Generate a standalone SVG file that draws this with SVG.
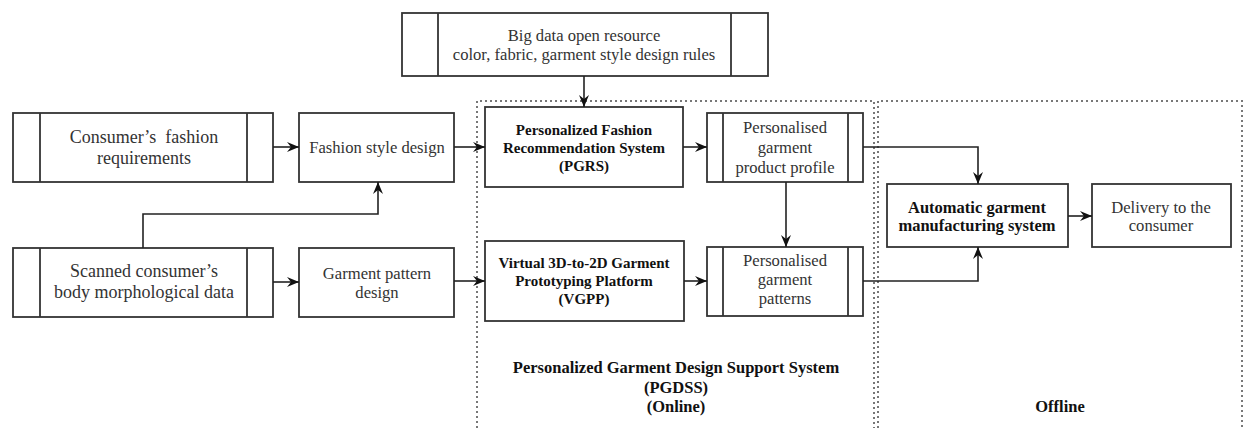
<svg xmlns="http://www.w3.org/2000/svg" width="1244" height="430" viewBox="0 0 1244 430">
<style>
.box{fill:#fff;stroke:#333;stroke-width:1.8}
.in{stroke:#333;stroke-width:1.8}
.t{font-family:"Liberation Serif",serif;font-size:16.6px;fill:#333;text-anchor:middle}
.tl{font-family:"Liberation Serif",serif;font-size:18px;fill:#333;text-anchor:middle}
.b{font-family:"Liberation Serif",serif;font-size:15px;font-weight:bold;fill:#111;text-anchor:middle}
.bl{font-family:"Liberation Serif",serif;font-size:16.5px;font-weight:bold;fill:#111;text-anchor:middle}
.c{fill:none;stroke:#222;stroke-width:1.6}
.dot{fill:none;stroke:#777;stroke-width:2;stroke-dasharray:2 3}
</style>
<defs>
<marker id="ah" viewBox="0 0 12 10" refX="12" refY="5" markerWidth="12" markerHeight="10" markerUnits="userSpaceOnUse" orient="auto">
<path d="M0,0 L12,5 L0,10 L4,5 Z" fill="#111"/>
</marker>
</defs>
<rect width="1244" height="430" fill="#fff"/>
<g id="regions">
<path class="dot" d="M477,428 V101 H874 V428"/>
<path class="dot" d="M878,428 V101 H1242 V428"/>
<text class="bl" x="676" y="373">Personalized Garment Design Support System</text>
<text class="bl" x="676" y="393">(PGDSS)</text>
<text class="bl" x="676" y="412">(Online)</text>
<text class="bl" x="1060" y="412">Offline</text>
</g>
<g id="bigdata">
<rect class="box" x="402" y="13" width="366" height="63"/>
<line class="in" x1="438" y1="13" x2="438" y2="76"/>
<line class="in" x1="731" y1="13" x2="731" y2="76"/>
<text class="t" x="584" y="41">Big data open resource</text>
<text class="t" x="584" y="60">color, fabric, garment style design rules</text>
</g>
<g id="consumer">
<rect class="box" x="13" y="113" width="260" height="69"/>
<line class="in" x1="40" y1="113" x2="40" y2="182"/>
<line class="in" x1="247" y1="113" x2="247" y2="182"/>
<text class="tl" x="144" y="143" xml:space="preserve">Consumer’s  fashion</text>
<text class="tl" x="144" y="164">requirements</text>
</g>
<g id="fashionstyle">
<rect class="box" x="299" y="113" width="155" height="69"/>
<text class="t" x="377" y="153">Fashion style design</text>
</g>
<g id="pgrs">
<rect class="box" x="485" y="107" width="198" height="80"/>
<text class="b" x="584" y="135">Personalized Fashion</text>
<text class="b" x="584" y="153">Recommendation System</text>
<text class="b" x="584" y="171">(PGRS)</text>
</g>
<g id="profile">
<rect class="box" x="707" y="113" width="156" height="69"/>
<line class="in" x1="723" y1="113" x2="723" y2="182"/>
<line class="in" x1="848" y1="113" x2="848" y2="182"/>
<text class="t" x="785" y="133">Personalised</text>
<text class="t" x="785" y="153">garment</text>
<text class="t" x="785" y="173">product profile</text>
</g>
<g id="scanned">
<rect class="box" x="13" y="248" width="260" height="69"/>
<line class="in" x1="40" y1="248" x2="40" y2="317"/>
<line class="in" x1="247" y1="248" x2="247" y2="317"/>
<text class="tl" x="144" y="277">Scanned consumer’s</text>
<text class="tl" x="144" y="298">body morphological data</text>
</g>
<g id="patterndesign">
<rect class="box" x="299" y="248" width="155" height="69"/>
<text class="t" x="377" y="279">Garment pattern</text>
<text class="t" x="377" y="298">design</text>
</g>
<g id="vgpp">
<rect class="box" x="485" y="241" width="199" height="80"/>
<text class="b" x="584" y="268">Virtual 3D-to-2D Garment</text>
<text class="b" x="584" y="286">Prototyping Platform</text>
<text class="b" x="584" y="304">(VGPP)</text>
</g>
<g id="patterns">
<rect class="box" x="707" y="247" width="156" height="69"/>
<line class="in" x1="723" y1="247" x2="723" y2="316"/>
<line class="in" x1="848" y1="247" x2="848" y2="316"/>
<text class="t" x="785" y="266">Personalised</text>
<text class="t" x="785" y="285">garment</text>
<text class="t" x="785" y="304">patterns</text>
</g>
<g id="manufacturing">
<rect class="box" x="887" y="184" width="181" height="63"/>
<text class="bl" x="977" y="213">Automatic garment</text>
<text class="bl" x="977" y="231">manufacturing system</text>
</g>
<g id="delivery">
<rect class="box" x="1092" y="184" width="139" height="63"/>
<text class="t" x="1161" y="213">Delivery to the</text>
<text class="t" x="1161" y="231">consumer</text>
</g>
<g id="connectors">
<path class="c" d="M273,147 H299" marker-end="url(#ah)"/>
<path class="c" d="M454,147 H485" marker-end="url(#ah)"/>
<path class="c" d="M683,147 H707" marker-end="url(#ah)"/>
<path class="c" d="M584,76 V107" marker-end="url(#ah)"/>
<path class="c" d="M143,248 V214 H378 V182" marker-end="url(#ah)"/>
<path class="c" d="M273,282 H299" marker-end="url(#ah)"/>
<path class="c" d="M454,281 H485" marker-end="url(#ah)"/>
<path class="c" d="M684,281 H707" marker-end="url(#ah)"/>
<path class="c" d="M786,182 V247" marker-end="url(#ah)"/>
<path class="c" d="M863,147 H978 V184" marker-end="url(#ah)"/>
<path class="c" d="M863,281 H978 V247" marker-end="url(#ah)"/>
<path class="c" d="M1068,216 H1092" marker-end="url(#ah)"/>
</g>
</svg>
